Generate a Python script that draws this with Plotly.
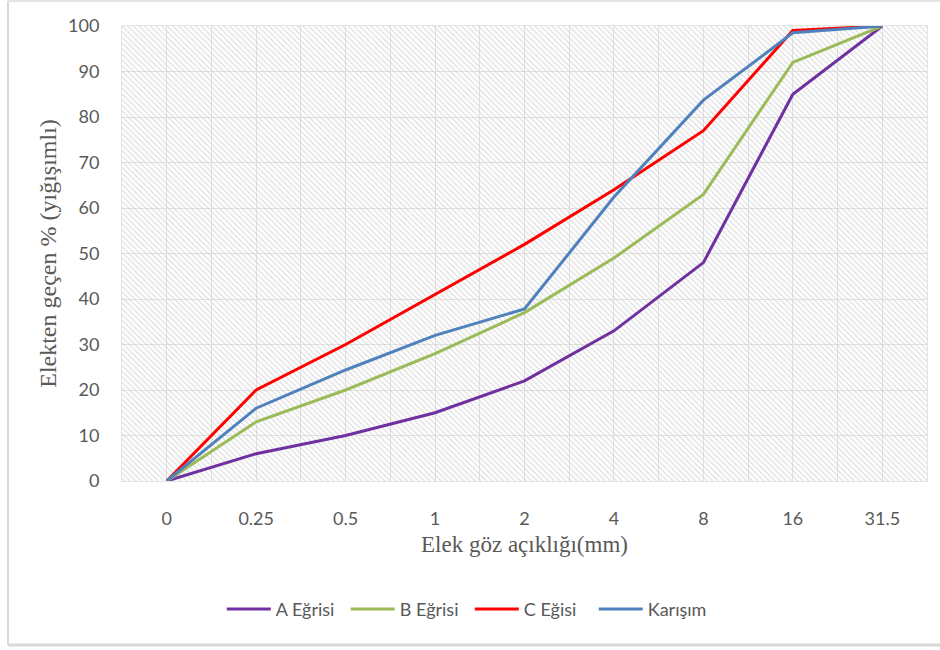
import plotly.graph_objects as go

sizes = ["0", "0.25", "0.5", "1", "2", "4", "8", "16", "31.5"]
a_egrisi = [0, 6, 10, 15, 22, 33, 48, 85, 100]
b_egrisi = [0, 13, 20, 28, 37, 49, 63, 92, 100]
c_egisi = [0, 20, 30, 41, 52, 64, 77, 99, 100]
karisim = [0, 16, 24.4, 32, 37.8, 62.4, 83.7, 98.5, 100]

names = ["A Eğrisi", "B Eğrisi", "C Eğisi", "Karışım"]
series = [a_egrisi, b_egrisi, c_egisi, karisim]
colors = ["#7030A0", "#9BBB59", "#FF0000", "#4F81BD"]

xpos = list(range(len(sizes)))
xmin, xmax = -0.5, len(sizes) - 0.5
ymin, ymax = 0, 100

fig = go.Figure()

# hatched plot background
fig.add_trace(go.Scatter(
    x=[xmin, xmax, xmax, xmin, xmin], y=[ymin, ymin, ymax, ymax, ymin],
    mode="lines", line=dict(width=0), fill="toself",
    fillcolor="rgba(0,0,0,0)",
    fillpattern=dict(shape="\\", fgcolor="#c4c4c4", bgcolor="rgba(255,255,255,0)",
                     size=4, solidity=0.35),
    hoverinfo="skip", showlegend=False,
))

for n, s, c in zip(names, series, colors):
    fig.add_trace(go.Scatter(x=xpos, y=s, name=n, mode="lines",
                             line=dict(color=c, width=3)))

tick_font = dict(family="Lato, Open Sans, sans-serif", size=18, color="#595959")
xtitle_font = dict(family="Liberation Serif, Times New Roman, serif", size=23, color="#595959")
ytitle_font = dict(family="Liberation Serif, Times New Roman, serif", size=24, color="#595959")

fig.update_layout(
    width=940, height=650,
    margin=dict(l=122, r=13, t=26, b=169),
    paper_bgcolor="white", plot_bgcolor="white",
    xaxis=dict(
        range=[xmin, xmax], tickvals=xpos, ticktext=sizes,
        showgrid=True, gridcolor="#e3e3e3", gridwidth=1,
        minor=dict(tick0=-0.5, dtick=1, showgrid=True, gridcolor="#e3e3e3", gridwidth=1),
        zeroline=False, showline=True, linecolor="#e3e3e3", linewidth=1, mirror=True,
        tickfont=tick_font, ticklabelstandoff=21,
        title=dict(text="Elek göz açıklığı(mm)", font=xtitle_font, standoff=8),
    ),
    yaxis=dict(
        range=[ymin, ymax], dtick=10,
        showgrid=True, gridcolor="#e3e3e3", gridwidth=1,
        zeroline=False, showline=True, linecolor="#e3e3e3", linewidth=1, mirror=True,
        tickfont=tick_font, ticklabelstandoff=18,
        title=dict(text="Elekten geçen % (yığışımlı)", font=ytitle_font, standoff=4),
    ),
    legend=dict(orientation="h", x=0.432, xanchor="center", y=-0.282, yanchor="middle",
                font=dict(family="Lato, Open Sans, sans-serif", size=18, color="#595959"),
                itemwidth=44, entrywidth=65, tracegroupgap=0),
    shapes=[
        dict(type="line", xref="paper", yref="paper",
             x0=(8 - 122) / 805, x1=(8 - 122) / 805, y0=(650 - 169 - 645) / 455, y1=(650 - 169 - 1) / 455,
             line=dict(color="#d9d9d9", width=2)),
        dict(type="line", xref="paper", yref="paper",
             x0=(8 - 122) / 805, x1=(940 - 122) / 805, y0=(650 - 169 - 645) / 455, y1=(650 - 169 - 645) / 455,
             line=dict(color="#d9d9d9", width=3)),
        dict(type="line", xref="paper", yref="paper",
             x0=(8 - 122) / 805, x1=(940 - 122) / 805, y0=(650 - 169 - 1) / 455, y1=(650 - 169 - 1) / 455,
             line=dict(color="#e6e6e6", width=2)),
    ],
)

fig.write_html("out.html")
